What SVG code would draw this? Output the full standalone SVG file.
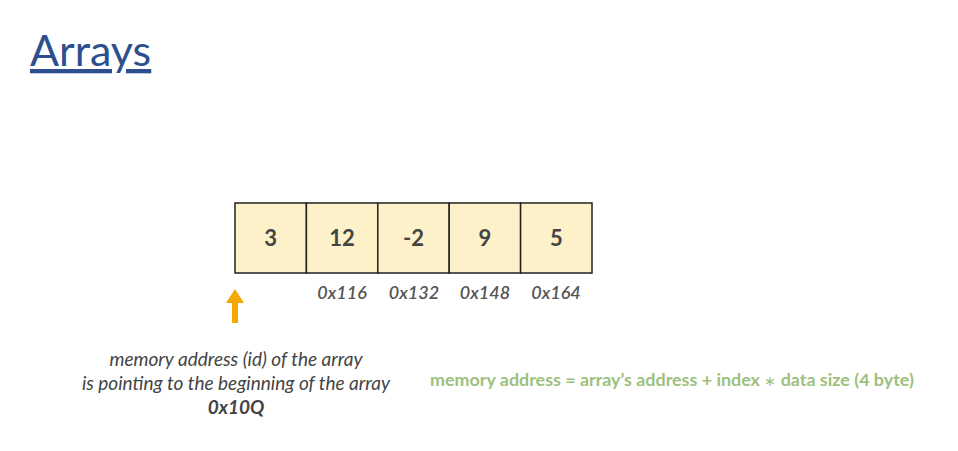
<svg xmlns="http://www.w3.org/2000/svg" width="958" height="451" viewBox="0 0 958 451">
<style>
.cell{fill:#FCF1C8;stroke:#222;stroke-width:1.5}
.num{font-family:Lato,"Liberation Sans",sans-serif;font-weight:bold;font-size:22px;fill:#444;text-anchor:middle}
.addr{font-family:Lato,"Liberation Sans",sans-serif;font-style:italic;font-weight:600;font-size:18px;fill:#555;text-anchor:middle}
.note{font-family:Lato,"Liberation Sans",sans-serif;font-style:italic;font-size:19px;fill:#444;text-anchor:middle}
</style>
<rect width="958" height="451" fill="#fff"/>
<g id="title">
<text x="30" y="66" font-family="Lato,'Liberation Sans',sans-serif" font-size="43" fill="#2D4F8F" text-decoration="underline">Arrays</text>
</g>
<g id="array">
<g id="cell0"><rect class="cell" x="235" y="203" width="71.4" height="70"/><text class="num" x="270.7" y="246">3</text></g>
<g id="cell1"><rect class="cell" x="306.4" y="203" width="71.4" height="70"/><text class="num" x="342.1" y="246">12</text></g>
<g id="cell2"><rect class="cell" x="377.8" y="203" width="71.4" height="70"/><text class="num" x="413.5" y="246">-2</text></g>
<g id="cell3"><rect class="cell" x="449.2" y="203" width="71.4" height="70"/><text class="num" x="484.9" y="246">9</text></g>
<g id="cell4"><rect class="cell" x="520.6" y="203" width="71.4" height="70"/><text class="num" x="556.3" y="246">5</text></g>
</g>
<g id="addresses">
<text class="addr" x="342" y="299">0x116</text>
<text class="addr" x="414" y="299">0x132</text>
<text class="addr" x="485" y="299">0x148</text>
<text class="addr" x="556" y="299">0x164</text>
</g>
<g id="connectors">
<path d="M235 289 L244 303 L238 303 L238 323 L232 323 L232 303 L226 303 Z" fill="#F5A800"/>
</g>
<g id="note">
<text class="note" x="236" y="366">memory address (id) of the array</text>
<text class="note" x="236" y="390">is pointing to the beginning of the array</text>
<text class="note" x="236" y="414" font-weight="bold">0x10Q</text>
</g>
<g id="formula">
<text x="430" y="386" font-family="Lato,'Liberation Sans',sans-serif" font-weight="bold" font-size="17.9" fill="#9DBF7E">memory address = array’s address + index <tspan font-weight="normal" font-size="14">∗</tspan> data size (4 byte)</text>
</g>
</svg>
